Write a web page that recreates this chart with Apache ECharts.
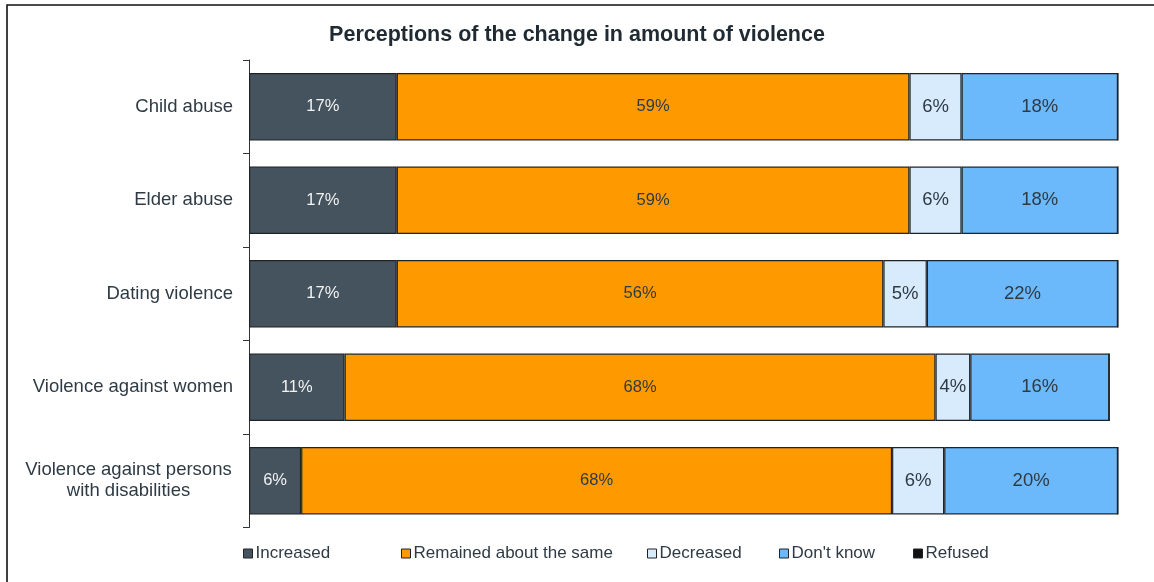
<!DOCTYPE html>
<html>
<head>
<meta charset="utf-8">
<style>
  html, body { margin: 0; padding: 0; background: #fff; }
  #chart { width: 1154px; height: 582px; }
</style>
<script src="https://cdn.jsdelivr.net/npm/echarts@6/dist/echarts.min.js"></script>
</head>
<body>
<div id="chart"></div>
<script>
const categories = [
  "Child abuse",
  "Elder abuse",
  "Dating violence",
  "Violence against women",
  "Violence against persons\nwith disabilities"
];
const seriesNames = ["Increased", "Remained about the same", "Decreased", "Don't know", "Refused"];
const increased = [17, 17, 17, 11, 6];
const remained  = [59, 59, 56, 68, 68];
const decreased = [6, 6, 5, 4, 6];
const dontKnow  = [18, 18, 22, 16, 20];
const refused   = [0, 0, 0, 0, 0];

const values = [increased, remained, decreased, dontKnow, refused];
const colors = ["#45535e", "#ff9900", "#d8ebfd", "#6bb9fb", "#111111"];
const labelColors = ["#f2f2f2", "#2e3a44", "#2e3a44", "#2e3a44", "#ffffff"];
const labelSizes = [16.5, 16.5, 18.5, 18.5, 16];
const legendLeft = [243, 401, 647, 779, 913];
const FONT = 'Liberation Sans, Arial, sans-serif';

const chart = echarts.init(document.getElementById('chart'), null, { renderer: 'canvas' });

const series = seriesNames.map((name, i) => ({
  name: name,
  type: 'bar',
  stack: 'total',
  barCategoryGap: '28%',
  data: values[i],
  itemStyle: { color: colors[i], borderColor: '#1e2328', borderWidth: 1.2 },
  label: {
    show: true,
    position: 'inside',
    color: labelColors[i],
    fontSize: labelSizes[i],
    fontFamily: FONT,
    formatter: p => (p.value > 0 ? p.value + '%' : '')
  },
  emphasis: { disabled: true }
}));

const legends = seriesNames.map((name, i) => ({
  data: [name],
  left: legendLeft[i],
  top: 545,
  itemWidth: 9,
  itemHeight: 9,
  itemGap: 0,
  padding: 0,
  textStyle: { fontSize: 17, color: '#2e3a44', fontFamily: FONT, padding: [0, 0, 0, -2] },
  itemStyle: { borderColor: '#1e2328', borderWidth: 1 },
  icon: 'rect',
  selectedMode: false
}));

chart.setOption({
  animation: false,
  backgroundColor: '#ffffff',
  title: {
    text: 'Perceptions of the change in amount of violence',
    left: 'center',
    top: 19,
    textStyle: { fontSize: 21.5, fontWeight: 'bold', color: '#1f2a33', fontFamily: FONT }
  },
  graphic: [{
    type: 'rect',
    shape: { x: 7, y: 5, width: 1200, height: 620 },
    style: { fill: 'none', stroke: '#111', lineWidth: 1.6 },
    silent: true
  }],
  legend: legends,
  grid: { left: 249, right: 36, top: 60, bottom: 54.5, containLabel: false },
  xAxis: {
    type: 'value', min: 0, max: 100,
    show: false
  },
  yAxis: {
    type: 'category',
    data: categories,
    inverse: true,
    axisLine: { show: true, lineStyle: { color: '#333', width: 1 } },
    axisTick: { show: true, length: 6, lineStyle: { color: '#333' } },
    axisLabel: {
      fontSize: 18.5, color: '#2e3a44', margin: 16, align: 'right',
      fontFamily: FONT, lineHeight: 21,
      formatter: v => {
        if (v.indexOf('\n') >= 0) {
          return v.split('\n').map(s => '{c|' + s + '}').join('\n');
        }
        return v;
      },
      rich: {
        c: { width: 209, align: 'center', fontSize: 18.5, lineHeight: 21, color: '#2e3a44', fontFamily: FONT }
      }
    },
    splitLine: { show: false }
  },
  series: series
});
</script>
</body>
</html>
